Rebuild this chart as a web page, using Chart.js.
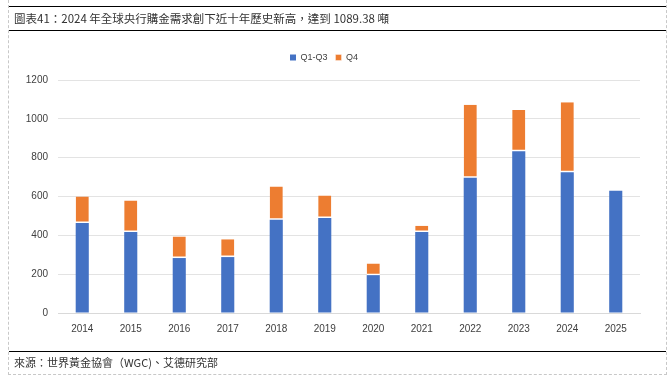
<!DOCTYPE html>
<html>
<head>
<meta charset="utf-8">
<script src="https://cdn.jsdelivr.net/npm/chart.js@4/dist/chart.umd.min.js"></script>
<style>
  html, body { margin: 0; padding: 0; background: #fff; }
  #wrap { position: relative; width: 672px; height: 383px; overflow: hidden; }
  #chart { position: absolute; left: 0; top: 0; }
  .frame { position: absolute; left: 8px; top: 0; width: 659px; height: 375px;
           border-left: 1px dashed #c8c8c8; border-right: 1px dashed #c8c8c8;
           border-bottom: 1px dashed #c8c8c8; box-sizing: border-box; }
  .rule { position: absolute; left: 9px; width: 657px; height: 0; border-top: 1.5px solid #000; }
  .title { position: absolute; left: 14px; top: 10px; font-family: "Noto Sans CJK TC", serif;
           font-size: 11.5px; color: #333; white-space: nowrap; }
  .source { position: absolute; left: 14px; top: 354px; font-family: "Noto Sans CJK TC", serif;
            font-size: 11px; color: #333; white-space: nowrap; }
</style>
</head>
<body>
<div id="wrap">
  <canvas id="chart" width="672" height="383"></canvas>
  <div class="frame"></div>
  <div class="rule" style="top:6px"></div>
  <div class="rule" style="top:30px"></div>
  <div class="rule" style="top:351px"></div>
  <div class="title">圖表41：2024 年全球央行購金需求創下近十年歷史新高，達到 1089.38 噸</div>
  <div class="source">來源：世界黃金協會（WGC)、艾德研究部</div>
</div>
<script>
// years on the x axis
const years = ['2014', '2015', '2016', '2017', '2018', '2019', '2020', '2021', '2022', '2023', '2024', '2025'];
// central bank gold purchases, tonnes
const q1q3 = [463, 417, 283, 288, 480, 489, 195, 417, 696, 833, 725, 629];
const q4 = [137, 162, 111, 92, 171, 116, 60, 33, 377, 213, 361, null];
const yTicks = [0, 200, 400, 600, 800, 1000, 1200];

const tickFont = { family: 'Arial, "Liberation Sans", sans-serif', size: 10 };

// push the plot area down a bit below the legend
const legendGap = {
    id: 'legendGap',
    beforeInit(chart) {
        const fit = chart.legend.fit;
        chart.legend.fit = function () {
            fit.call(this);
            this.height += 8;
        };
    }
};

new Chart(document.getElementById('chart'), {
    type: 'bar',
    data: {
        labels: years,
        datasets: [
            {
                label: 'Q1-Q3',
                data: q1q3,
                backgroundColor: '#4472C4',
                borderWidth: 0
            },
            {
                label: 'Q4',
                data: q4,
                backgroundColor: '#ED7D31',
                borderColor: '#ffffff',
                borderWidth: { top: 0, bottom: 1.5, left: 0, right: 0 },
                borderSkipped: false
            }
        ]
    },
    options: {
        responsive: false,
        animation: false,
        layout: { padding: { left: 8, right: 32, top: 45, bottom: 42 } },
        datasets: {
            bar: { categoryPercentage: 1, barPercentage: 0.27 }
        },
        plugins: {
            legend: {
                position: 'top',
                labels: {
                    boxWidth: 6, boxHeight: 6, padding: 8,
                    color: '#404040',
                    font: { family: 'Arial, "Liberation Sans", sans-serif', size: 9 }
                }
            },
            tooltip: { enabled: false },
            title: { display: false }
        },
        scales: {
            x: {
                stacked: true,
                grid: { display: false },
                border: { color: '#d9d9d9' },
                ticks: { color: '#404040', font: tickFont, padding: 2 },
                afterFit: s => { s.height = 28; }
            },
            y: {
                stacked: true,
                min: 0,
                max: 1200,
                afterBuildTicks: s => { s.ticks = yTicks.map(v => ({ value: v })); },
                grid: { color: '#e3e3e3', drawTicks: false },
                border: { display: false },
                ticks: {
                    color: '#404040', font: tickFont, padding: 10,
                    callback: v => String(v)
                },
                afterFit: s => { s.width = 50; }
            }
        }
    },
    plugins: [legendGap]
});
</script>
</body>
</html>
